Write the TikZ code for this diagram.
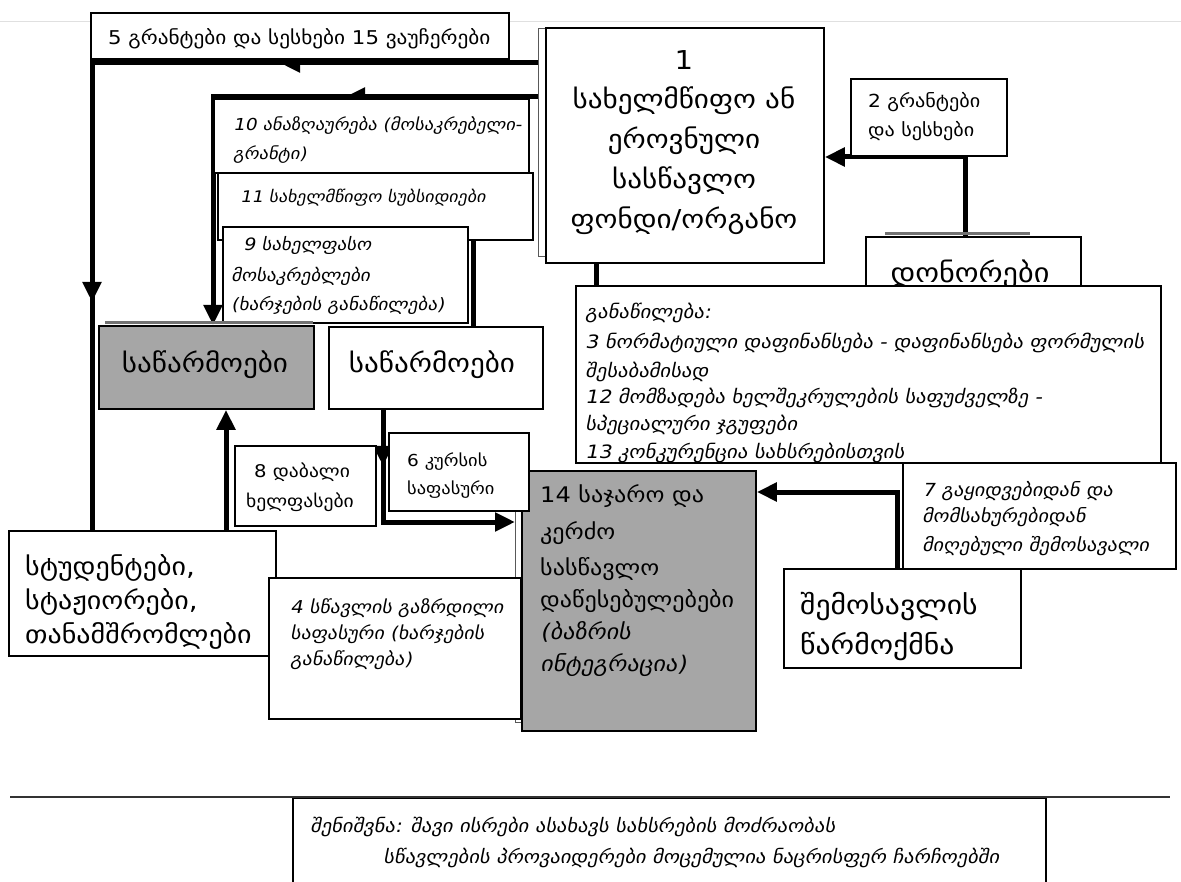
\documentclass[tikz,border=0pt]{standalone}
\usepackage{fontspec}
\setmainfont{DejaVu Sans}[FakeStretch=1.12]
\newfontfamily\gi{DejaVu Sans}[FakeSlant=0.2,FakeStretch=1.12]
\usetikzlibrary{arrows.meta}
\definecolor{boxgray}{RGB}{166,166,166}
\pgfdeclarelayer{bgz}
\pgfdeclarelayer{bgl}
\pgfsetlayers{bgz,bgl,main}
\newcommand\mkbox[6]{\node[#6, minimum width={#4-#2}, minimum height={#5-#3}] (#1) at (#2,#3) {};}
\newcommand\fs[1]{\fontsize{#1}{#1}\selectfont}
\tikzset{
  box/.style={draw=black, line width=1.8pt, fill=white, inner sep=0pt, anchor=north west},
  gbox/.style={box, fill=boxgray},
  sbox/.style={box, draw=black!65, line width=1.2pt},
  flow/.style={line width=5pt, draw=black},
  tip/.style={-{Triangle[length=20pt,width=18pt]}},
  lbl/.style={anchor=base west, inner sep=0pt},
  clbl/.style={anchor=base, inner sep=0pt},
}
\begin{document}
\begin{tikzpicture}[x=1pt,y=-1pt]
\useasboundingbox (0,0) rectangle (1181,882);
\begin{pgfonlayer}{bgz}
\fill[white] (0,0) rectangle (1181,882);
\draw[black!12, line width=1pt] (0,22) -- (1181,22);
\end{pgfonlayer}

% boxes
\mkbox{b1back}{538}{28}{700}{256}{sbox}
\mkbox{b1}{545}{27}{823}{262}{box}
\mkbox{b5}{90}{12}{508}{58}{box}
\mkbox{b2}{850}{78}{1006}{155}{box}
\draw[black!55, line width=3pt] (885,234) -- (1030,234);
\mkbox{don}{865}{236}{1080}{300}{box}
\node[clbl, font=\fs{27}] (tdon) at (970,283) {დონორები};
\mkbox{dist}{575}{285}{1160}{462}{box}
\mkbox{b10}{213}{98}{528}{172}{box}
\mkbox{b11}{217}{172}{532}{239}{box}
\mkbox{b9}{222}{226}{467}{322}{box}
\draw[black!55, line width=3pt] (105,323) -- (313,323);
\mkbox{gr}{98}{325}{313}{408}{gbox}
\mkbox{wh}{328}{326}{542}{408}{box}
\mkbox{b8}{234}{445}{375}{525}{box}
\mkbox{b14back}{515}{488}{700}{722}{sbox}
\mkbox{b14}{521}{470}{755}{730}{gbox}
\mkbox{b6}{388}{432}{528}{510}{box}
\mkbox{b7}{902}{462}{1175}{568}{box}
\mkbox{inc}{783}{568}{1020}{667}{box}
\mkbox{stud}{8}{530}{275}{655}{box}
\mkbox{b4}{268}{577}{520}{718}{box}
\mkbox{note}{292}{797}{1045}{885}{box}
\draw[black!80, line width=1.5pt] (10,797) -- (1170,797);

% connectors (behind boxes)
\begin{pgfonlayer}{bgl}
\draw[flow] (b1.west |- 0,63) -- (92,63) -- (stud.north -| 92,0);
\draw[flow, tip] (305,63) -- (280,63);
\draw[flow, tip] (92,275) -- (92,302);
\draw[flow, tip] (b1.west |- 0,97) -- (213,97) -- (gr.north -| 213,0);
\draw[flow, tip] (370,97) -- (345,97);
\draw[flow] (b11.south -| 473,0) -- (wh.north -| 473,0);
\draw[flow] (b1.south -| 596,0) -- (dist.north -| 596,0);
\draw[flow, tip] (don.north -| 965,0) -- (965,157) -- (b1.east |- 0,157);
\draw[flow, tip] (inc.north -| 897,0) -- (897,492) -- (b14.east |- 0,492);
\draw[flow, tip] (wh.south -| 383,0) -- (383,522) -- (b14back.west |- 0,522);
\draw[flow, tip] (383,440) -- (383,466);
\draw[flow, tip] (stud.north -| 226,0) -- (gr.south -| 226,0);
\end{pgfonlayer}

% texts
\node[lbl, font=\fs{19}] (t5) at (108,45) {5 გრანტები და სესხები 15 ვაუჩერები};
\node[clbl, font=\fs{26}] (t1a) at (684,70) {1};
\node[clbl, font=\fs{26}] (t1b) at (684,109) {სახელმწიფო ან};
\node[clbl, font=\fs{26}] (t1c) at (684,149) {ეროვნული};
\node[clbl, font=\fs{26}] (t1d) at (684,189) {სასწავლო};
\node[clbl, font=\fs{26}] (t1e) at (684,229) {ფონდი/ორგანო};
\node[lbl, font=\fs{18}] (t2a) at (868,108) {2 გრანტები};
\node[lbl, font=\fs{18}] (t2b) at (868,137) {და სესხები};
\node[lbl, font=\gi\fs{16.5}] (t10a) at (233,131) {10 ანაზღაურება (მოსაკრებელი-};
\node[lbl, font=\gi\fs{16.5}] (t10b) at (233,160) {გრანტი)};
\node[lbl, font=\gi\fs{16}] (t11) at (240,203) {11 სახელმწიფო სუბსიდიები};
\node[lbl, font=\gi\fs{17}] (t9a) at (243,251) {9 სახელფასო};
\node[lbl, font=\gi\fs{17}] (t9b) at (231,282) {მოსაკრებლები};
\node[lbl, font=\gi\fs{17}] (t9c) at (231,311) {(ხარჯების განაწილება)};
\node[clbl, font=\fs{26}] (tgr) at (205,373) {საწარმოები};
\node[clbl, font=\fs{26}] (twh) at (432,373) {საწარმოები};
\node[lbl, font=\gi\fs{18.4}] (td1) at (585,319) {განაწილება:};
\node[lbl, font=\gi\fs{18.4}] (td2) at (585,349) {3 ნორმატიული დაფინანსება - დაფინანსება ფორმულის};
\node[lbl, font=\gi\fs{18.4}] (td3) at (585,378) {შესაბამისად};
\node[lbl, font=\gi\fs{18.4}] (td4) at (585,404) {12 მომზადება ხელშეკრულების საფუძველზე -};
\node[lbl, font=\gi\fs{18.4}] (td5) at (585,431) {სპეციალური ჯგუფები};
\node[lbl, font=\gi\fs{18.4}] (td6) at (585,458) {13 კონკურენცია სახსრებისთვის};
\node[lbl, font=\fs{17.5}] (t8a) at (254,477) {8 დაბალი};
\node[lbl, font=\fs{17.5}] (t8b) at (246,507) {ხელფასები};
\node[lbl, font=\fs{16.5}] (t6a) at (407,466) {6 კურსის};
\node[lbl, font=\fs{16.5}] (t6b) at (407,494) {საფასური};
\node[lbl, font=\fs{21.5}] (t14a) at (540,502) {14 საჯარო და};
\node[lbl, font=\fs{21.5}] (t14b) at (540,539) {კერძო};
\node[lbl, font=\fs{21.5}] (t14c) at (540,575) {სასწავლო};
\node[lbl, font=\fs{21.5}] (t14d) at (540,607) {დაწესებულებები};
\node[lbl, font=\gi\fs{21.5}] (t14e) at (540,639) {(ბაზრის};
\node[lbl, font=\gi\fs{21.5}] (t14f) at (540,671) {ინტეგრაცია)};
\node[lbl, font=\gi\fs{18}] (t7a) at (922,496) {7 გაყიდვებიდან და};
\node[lbl, font=\gi\fs{18}] (t7b) at (922,522) {მომსახურებიდან};
\node[lbl, font=\gi\fs{18}] (t7c) at (922,551) {მიღებული შემოსავალი};
\node[lbl, font=\fs{26.5}] (tia) at (800,614) {შემოსავლის};
\node[lbl, font=\fs{26.5}] (tib) at (800,654) {წარმოქმნა};
\node[lbl, font=\fs{25}] (tsa) at (25,575) {სტუდენტები,};
\node[lbl, font=\fs{25}] (tsb) at (25,609) {სტაჟიორები,};
\node[lbl, font=\fs{25}] (tsc) at (25,643) {თანამშრომლები};
\node[lbl, font=\gi\fs{17.7}] (t4a) at (290,613) {4 სწავლის გაზრდილი};
\node[lbl, font=\gi\fs{17.7}] (t4b) at (290,639) {საფასური (ხარჯების};
\node[lbl, font=\gi\fs{17.7}] (t4c) at (290,665) {განაწილება)};
\node[lbl, font=\gi\fs{18.3}] (tn1) at (310,832) {შენიშვნა: შავი ისრები ასახავს სახსრების მოძრაობას};
\node[lbl, font=\gi\fs{18.3}] (tn2) at (383,863) {სწავლების პროვაიდერები მოცემულია  ნაცრისფერ ჩარჩოებში};
\end{tikzpicture}
\end{document}
